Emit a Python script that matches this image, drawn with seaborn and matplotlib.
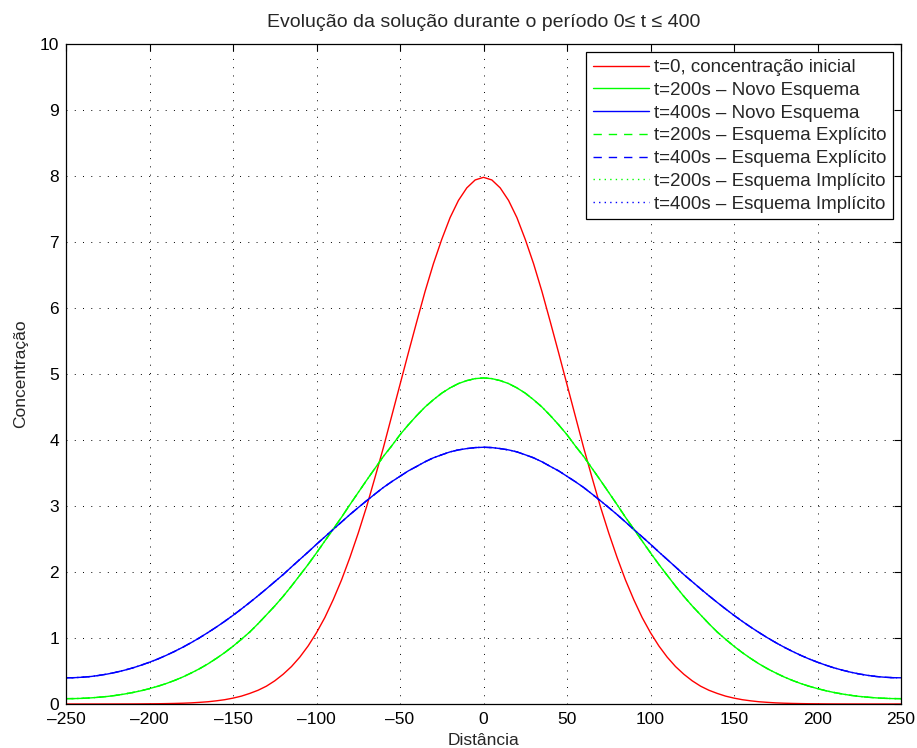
import matplotlib
matplotlib.use("Agg")
import matplotlib.pyplot as plt
import seaborn as sns
import numpy as np

# Distance grid (step 5); profiles are symmetric about x = 0,
# so each is stored from x = 0 to x = 250.
distance = np.arange(-250, 251, 5)

c0_half = [7.98, 7.94, 7.82, 7.63, 7.37, 7.04, 6.67, 6.25, 5.79, 5.32,
           4.84, 4.36, 3.88, 3.43, 2.99, 2.59, 2.22, 1.88, 1.58, 1.31,
           1.08, 0.88, 0.71, 0.567, 0.45, 0.351, 0.27, 0.208, 0.16, 0.119,
           0.089, 0.065, 0.048, 0.034, 0.025, 0.017, 0.012, 0.0085, 0.006, 0.004,
           0.003, 0.0018, 0.001, 0.0008, 0.0005, 0.0003, 0.0001, 0.0001, 0.0, 0.0,
           0.0]
c200_half = [4.94, 4.93, 4.90, 4.855, 4.79, 4.71, 4.61, 4.50, 4.37, 4.23,
             4.08, 3.91, 3.75, 3.57, 3.39, 3.205, 3.02, 2.83, 2.65, 2.47,
             2.29, 2.115, 1.95, 1.786, 1.63, 1.485, 1.35, 1.216, 1.09, 0.98,
             0.875, 0.778, 0.69, 0.608, 0.535, 0.47, 0.41, 0.357, 0.31, 0.269,
             0.233, 0.201, 0.174, 0.151, 0.131, 0.115, 0.103, 0.093, 0.086, 0.082,
             0.081]
c400_half = [3.89, 3.885, 3.87, 3.85, 3.82, 3.776, 3.73, 3.67, 3.60, 3.532,
             3.45, 3.368, 3.28, 3.181, 3.08, 2.976, 2.87, 2.758, 2.645, 2.533,
             2.42, 2.303, 2.19, 2.076, 1.96, 1.853, 1.745, 1.64, 1.538, 1.439,
             1.343, 1.252, 1.165, 1.083, 1.004, 0.93, 0.861, 0.797, 0.737, 0.682,
             0.633, 0.588, 0.547, 0.512, 0.481, 0.455, 0.434, 0.417, 0.406, 0.399,
             0.397]


def full(half):
    return list(reversed(half[1:])) + list(half)


conc_t0 = full(c0_half)
novo_t200 = full(c200_half)
novo_t400 = full(c400_half)
explicito_t200 = full(c200_half)
explicito_t400 = full(c400_half)
implicito_t200 = full(c200_half)
implicito_t400 = full(c400_half)

labels = ["t=0, concentração inicial",
          "t=200s – Novo Esquema",
          "t=400s – Novo Esquema",
          "t=200s – Esquema Explícito",
          "t=400s – Esquema Explícito",
          "t=200s – Esquema Implícito",
          "t=400s – Esquema Implícito"]

xticks = list(range(-250, 251, 50))
yticks = list(range(0, 11))

sns.set_style("white")
plt.rcParams["font.family"] = ["Liberation Sans", "DejaVu Sans"]

fig = plt.figure(figsize=(9.17, 7.48), dpi=100)
ax = fig.add_axes([66 / 917, 44 / 748, 835 / 917, 660 / 748])

series = [
    (conc_t0, "#ff0000", "-"),
    (novo_t200, "#00ff00", "-"),
    (novo_t400, "#0000ff", "-"),
    (explicito_t200, "#00ff00", (0, (6, 5))),
    (explicito_t400, "#0000ff", (0, (6, 5))),
    (implicito_t200, "#00ff00", (0, (1, 3))),
    (implicito_t400, "#0000ff", (0, (1, 3))),
]
for (vals, col, ls), lab in zip(series, labels):
    sns.lineplot(x=distance, y=vals, color=col, linestyle=ls, linewidth=1.0,
                 label=lab, ax=ax)

ax.set_xlim(-250, 250)
ax.set_ylim(0, 10)
ax.set_xticks(xticks)
ax.set_yticks(yticks)
ax.set_xticklabels([str(v).replace("-", "–") for v in xticks])

ax.grid(True, color="black", linestyle=(0, (1, 7.5)), linewidth=0.7)
ax.tick_params(direction="in", length=5, width=0.8, top=True, right=True,
               labelsize=12.5, colors="black")
ax.tick_params(axis="x", pad=6)
ax.tick_params(axis="y", pad=5)
for s in ax.spines.values():
    s.set_linewidth(0.9)
    s.set_color("black")

ax.set_title("Evolução da solução durante o período 0≤ t ≤ 400",
             fontsize=14, pad=12)
ax.set_xlabel("Distância", fontsize=12.5, labelpad=4)
ax.set_ylabel("Concentração", fontsize=12.5, labelpad=8)

leg = ax.legend(loc="upper right", fontsize=13.5, frameon=True, fancybox=False,
                edgecolor="black", framealpha=1, handlelength=3.0,
                handletextpad=0.25, labelspacing=0.3, borderpad=0.35,
                borderaxespad=0.45)
leg.get_frame().set_linewidth(0.9)

fig.savefig("out.png", dpi=100)
